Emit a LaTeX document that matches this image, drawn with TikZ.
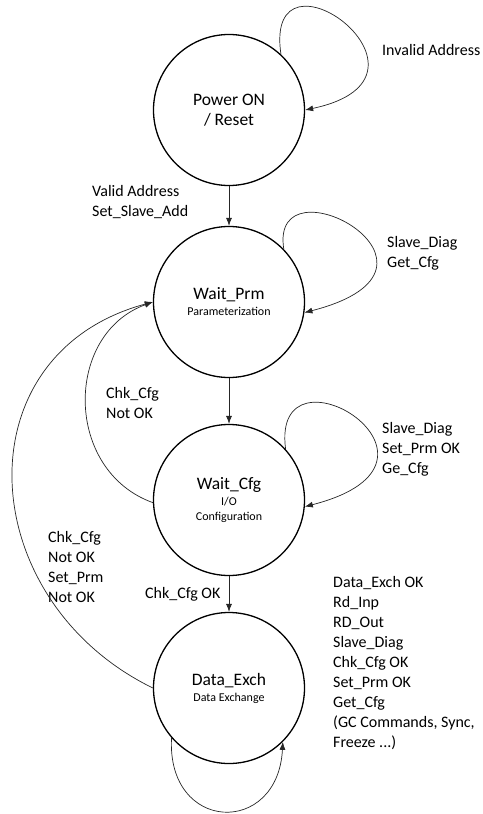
\documentclass[tikz,border=0pt]{standalone}
\usepackage{fontspec}
\setmainfont{Carlito}
\usetikzlibrary{arrows.meta,calc}

\newcommand\ttl{\fontsize{17.5}{20}\selectfont}
\newcommand\lbl{\fontsize{16}{20}\selectfont}

\begin{document}
\begin{tikzpicture}[x=1pt, y=1pt, >={Latex[length=8pt,width=6pt]},
  state/.style={circle, draw, line width=1.3pt, minimum size=151pt, inner sep=0pt,
    align=center, font=\fontsize{12}{15}\selectfont},
  trans/.style={->, line width=0.7pt, draw=black!85},
  txt/.style={inner sep=0pt, align=left, anchor=west, font=\lbl}]
\useasboundingbox (0,0) rectangle (482,-814);
% states
\node[state, font=\ttl] (power) at (229,-110) {Power ON\\/ Reset};
\node[state] (waitprm) at (229,-302) {{\ttl Wait\_Prm}\\[1pt]Parameterization};
\node[state] (waitcfg) at (229,-500) {{\ttl Wait\_Cfg}\\[1pt]I/O\\Configuration};
\node[state] (dataexch) at (229,-688) {{\ttl Data\_Exch}\\[1pt]Data Exchange};
% transition texts
\node[txt] (invalid) at (382,-50) {Invalid Address};
\node[txt] (valid) at (92,-202) {Valid Address\\Set\_Slave\_Add};
\node[txt] (prmloop) at (387,-253) {Slave\_Diag\\Get\_Cfg};
\node[txt] (cfgback) at (106,-403) {Chk\_Cfg\\Not OK};
\node[txt] (cfgloop) at (382,-449) {Slave\_Diag\\Set\_Prm OK\\Ge\_Cfg};
\node[txt] (exchback) at (48,-567) {Chk\_Cfg\\Not OK\\Set\_Prm\\Not OK};
\node[txt] (cfgok) at (145,-594) {Chk\_Cfg OK};
\node[txt] (exchloop) at (333,-663) {Data\_Exch OK\\Rd\_Inp\\RD\_Out\\Slave\_Diag\\Chk\_Cfg OK\\Set\_Prm OK\\Get\_Cfg\\(GC Commands, Sync,\\Freeze ...)};
% transitions
\draw[trans] (power) -- (waitprm);
\draw[trans] (waitprm) -- (waitcfg);
\draw[trans] (waitcfg) -- (dataexch);
\draw[trans] (power.47) .. controls ($(power.47)+(-18,122)$) and ($(power.east)+(156,33)$) .. (power.east);
\draw[trans] (waitprm.44) .. controls ($(waitprm.44)+(-15,95)$) and ($(waitprm.-8)+(175,45)$) .. (waitprm.-8);
\draw[trans] (waitcfg.42) .. controls ($(waitcfg.42)+(-15,115)$) and ($(waitcfg.-5)+(175,45)$) .. (waitcfg.-5);
\draw[trans] (dataexch.221) .. controls ($(dataexch.221)+(-5,-95)$) and ($(dataexch.-45)+(-5,-95)$) .. (dataexch.-45);
\draw[trans] (waitcfg.182) .. controls ($(waitcfg.182)+(-89,32)$) and ($(waitprm.west)+(-89,-32)$) .. (waitprm.west);
\draw[trans] (dataexch.west) .. controls ($(dataexch.west)+(-180,88)$) and ($(waitprm.west)+(-193,-52)$) .. (waitprm.west);
\end{tikzpicture}
\end{document}
